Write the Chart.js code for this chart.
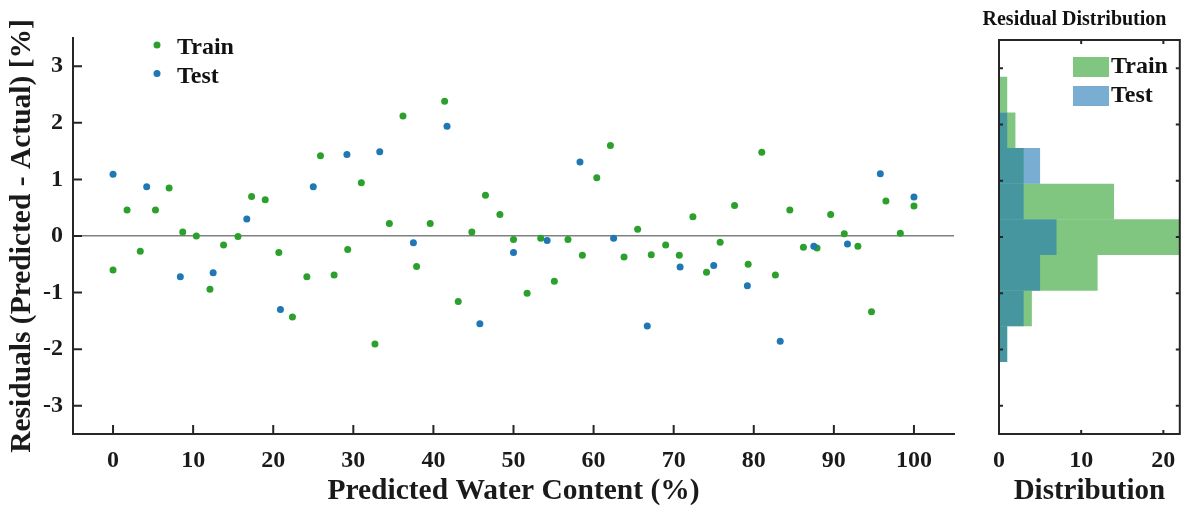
<!DOCTYPE html>
<html>
<head>
<meta charset="utf-8">
<script src="https://cdn.jsdelivr.net/npm/chart.js@4.4.1/dist/chart.umd.min.js"></script>
<style>
  body { margin: 0; background: #fff; width: 1188px; height: 506px; overflow: hidden; position: relative; }
  #left { position: absolute; left: 0; top: 0; }
  #right { position: absolute; left: 968px; top: 0; }
</style>
</head>
<body>
<canvas id="left" width="960" height="506"></canvas>
<canvas id="right" width="220" height="506"></canvas>
<script>
// residuals
const trainX = [0, 1.75, 3.4, 5.3, 7.0, 8.7, 10.4, 12.1, 13.8, 15.6, 17.3, 19.0, 20.7, 22.4, 24.2, 25.9, 27.6, 29.3, 31.0, 32.7,
  34.5, 36.2, 37.9, 39.6, 41.4, 43.1, 44.8, 46.5, 48.3, 50.0, 51.7, 53.4, 55.1, 56.8, 58.6, 60.4, 62.1, 63.8, 65.5, 67.2,
  69.0, 70.7, 72.4, 74.1, 75.8, 77.6, 79.3, 81.0, 82.7, 84.5, 86.2, 87.9, 89.6, 91.3, 93.0, 94.7, 96.5, 98.3, 100]
const trainY = [-0.60, 0.46, -0.27, 0.46, 0.85, 0.07, 0.00, -0.94, -0.16, -0.01, 0.70, 0.64, -0.29, -1.43, -0.72, 1.42, -0.69, -0.24, 0.94, -1.91,
  0.22, 2.12, -0.54, 0.22, 2.38, -1.16, 0.07, 0.72, 0.38, -0.06, -1.01, -0.04, -0.80, -0.06, -0.34, 1.03, 1.60, -0.37, 0.12, -0.33,
  -0.16, -0.34, 0.34, -0.64, -0.11, 0.54, -0.50, 1.48, -0.69, 0.46, -0.20, -0.21, 0.38, 0.04, -0.18, -1.34, 0.62, 0.05, 0.53]
const testX = [0, 4.2, 8.4, 12.5, 16.7, 20.9, 25.0, 29.2, 33.3, 37.5, 41.7, 45.8, 50.0, 54.2, 58.3, 62.5, 66.7, 70.8, 75.0, 79.2,
  83.3, 87.5, 91.7, 95.8, 100]
const testY = [1.09, 0.87, -0.72, -0.65, 0.30, -1.30, 0.87, 1.44, 1.49, -0.12, 1.94, -1.55, -0.29, -0.08, 1.31, -0.04, -1.59, -0.55, -0.52, -0.88,
  -1.86, -0.18, -0.14, 1.10, 0.69]

// histogram bins (centres of the bins, bottom to top) and counts
const binCenters = [-1.903, -1.27, -0.637, -0.003, 0.63, 1.263, 1.897, 2.53]
const trainCounts = [1, 4, 12, 22, 14, 3, 2, 1]
const testCounts = [1, 3, 5, 7, 3, 5, 1, 0]

const xTicks = [0, 10, 20, 30, 40, 50, 60, 70, 80, 90, 100]
const yTicks = [-3, -2, -1, 0, 1, 2, 3]
const histTicks = [0, 10, 20]

const green = 'rgb(44,160,44)'
const blue = 'rgb(31,119,180)'
const greenFill = 'rgba(44,160,44,0.6)'
const blueFill = 'rgba(31,119,180,0.6)'
const axisColor = '#262626'
const serif = '"Liberation Serif", "Times New Roman", serif'

Chart.defaults.font.family = serif
Chart.defaults.font.weight = 'bold'
Chart.defaults.color = '#1a1a1a'

const setTicks = arr => scale => { scale.ticks = arr.map(v => ({ value: v })) }

// MATLAB style ticks pointing into the plot area
const inwardTicks = {
  id: 'inwardTicks',
  afterDatasetsDraw(chart, args, opts) {
    const { ctx, chartArea: a } = chart
    const xs = chart.scales.x, ys = chart.scales.y
    const len = opts.len
    ctx.save()
    ctx.strokeStyle = axisColor
    ctx.lineWidth = 2
    ctx.beginPath()
    xs.ticks.forEach(t => {
      const p = xs.getPixelForValue(t.value)
      ctx.moveTo(p, a.bottom); ctx.lineTo(p, a.bottom - len)
      if (opts.box) { ctx.moveTo(p, a.top); ctx.lineTo(p, a.top + len) }
    })
    ys.ticks.forEach(t => {
      const p = ys.getPixelForValue(t.value)
      ctx.moveTo(a.left, p); ctx.lineTo(a.left + len, p)
      if (opts.box) { ctx.moveTo(a.right, p); ctx.lineTo(a.right - len, p) }
    })
    ctx.stroke()
    if (opts.box) ctx.strokeRect(a.left, a.top, a.right - a.left, a.bottom - a.top)
    ctx.restore()
  }
}

// legend drawn inside the plot, like the reference
const innerLegend = {
  id: 'innerLegend',
  afterDraw(chart, args, opts) {
    const ctx = chart.ctx
    ctx.save()
    ctx.font = 'bold 24px ' + serif
    ctx.textBaseline = 'middle'
    opts.items.forEach((it, i) => {
      const y = opts.y + i * opts.gap
      ctx.fillStyle = it.color
      if (opts.patch) {
        ctx.fillRect(opts.x, y - 10, 36, 20)
      } else {
        ctx.beginPath(); ctx.arc(opts.x, y - 3, 3.5, 0, Math.PI * 2); ctx.fill()
      }
      ctx.fillStyle = '#111'
      ctx.fillText(it.label, opts.textX, y)
    })
    ctx.restore()
  }
}

new Chart(document.getElementById('left'), {
  type: 'scatter',
  data: {
    datasets: [
      { label: 'Test', data: testX.map((x, i) => ({ x: x, y: testY[i] })), backgroundColor: blue, pointRadius: 3.5, borderWidth: 0 },
      { label: 'Train', data: trainX.map((x, i) => ({ x: x, y: trainY[i] })), backgroundColor: green, pointRadius: 3.5, borderWidth: 0 }
    ]
  },
  options: {
    responsive: false,
    animation: false,
    layout: { padding: { top: 38, right: 6, left: 0, bottom: 0 } },
    plugins: {
      legend: { display: false },
      tooltip: { enabled: false },
      inwardTicks: { len: 9, box: false },
      innerLegend: {
        x: 157, textX: 177, y: 48, gap: 28.5,
        items: [{ label: 'Train', color: green }, { label: 'Test', color: blue }]
      }
    },
    scales: {
      x: {
        type: 'linear', min: -5, max: 105,
        afterBuildTicks: setTicks(xTicks),
        afterFit: s => { s.height = 72 },
        grid: { display: false, drawTicks: false },
        border: { display: true, color: axisColor, width: 2 },
        ticks: { font: { size: 24, weight: 'bold' }, padding: 12, maxRotation: 0, color: '#1a1a1a' },
        title: { display: true, text: 'Predicted Water Content (%)', font: { size: 29.5, weight: 'bold', lineHeight: 1 }, padding: { top: 0, bottom: 0 }, color: '#1a1a1a' }
      },
      y: {
        type: 'linear', min: -3.5, max: 3.5,
        afterBuildTicks: setTicks(yTicks),
        afterFit: s => { s.width = 73 },
        grid: {
          drawTicks: false, lineWidth: 1.5,
          color: c => (c.tick && c.tick.value === 0) ? '#808080' : 'rgba(0,0,0,0)'
        },
        border: { display: true, color: axisColor, width: 2 },
        ticks: { font: { size: 24, weight: 'bold' }, padding: 10, color: '#1a1a1a' },
        title: { display: true, text: 'Residuals (Predicted - Actual) [%]', font: { size: 29.5, weight: 'bold', lineHeight: 1 }, padding: { top: 8, bottom: 0 }, color: '#1a1a1a' }
      }
    }
  },
  plugins: [inwardTicks, innerLegend]
})

new Chart(document.getElementById('right'), {
  type: 'bar',
  data: {
    datasets: [
      { label: 'Test', data: binCenters.map((c, i) => ({ x: testCounts[i], y: c })), backgroundColor: blueFill },
      { label: 'Train', data: binCenters.map((c, i) => ({ x: trainCounts[i], y: c })), backgroundColor: greenFill }
    ]
  },
  options: {
    indexAxis: 'y',
    responsive: false,
    animation: false,
    layout: { padding: { top: 0, right: 7, left: 0, bottom: 0 } },
    datasets: { bar: { grouped: false, barPercentage: 1, categoryPercentage: 1, borderWidth: 0, inflateAmount: 0 } },
    plugins: {
      legend: { display: false },
      tooltip: { enabled: false },
      title: { display: true, text: 'Residual Distribution', font: { size: 20, weight: 'bold', lineHeight: 1.2 }, padding: { top: 8, bottom: 8 }, color: '#111' },
      inwardTicks: { len: 4, box: true },
      innerLegend: {
        x: 105, textX: 143, y: 67, gap: 29,
        patch: true,
        items: [{ label: 'Train', color: greenFill }, { label: 'Test', color: blueFill }]
      }
    },
    scales: {
      x: {
        type: 'linear', min: 0, max: 22,
        afterBuildTicks: setTicks(histTicks),
        afterFit: s => { s.height = 72 },
        grid: { display: false, drawTicks: false },
        border: { display: false },
        ticks: { font: { size: 24, weight: 'bold' }, padding: 12, maxRotation: 0, color: '#1a1a1a' },
        title: { display: true, text: 'Distribution', font: { size: 29, weight: 'bold', lineHeight: 1 }, padding: { top: 0, bottom: 0 }, color: '#1a1a1a' }
      },
      y: {
        type: 'linear', min: -3.5, max: 3.5, offset: false,
        afterBuildTicks: setTicks(yTicks),
        afterFit: s => { s.width = 31 },
        grid: { display: false, drawTicks: false, offset: false },
        border: { display: false },
        ticks: { display: false }
      }
    }
  },
  plugins: [inwardTicks, innerLegend]
})
</script>
</body>
</html>
